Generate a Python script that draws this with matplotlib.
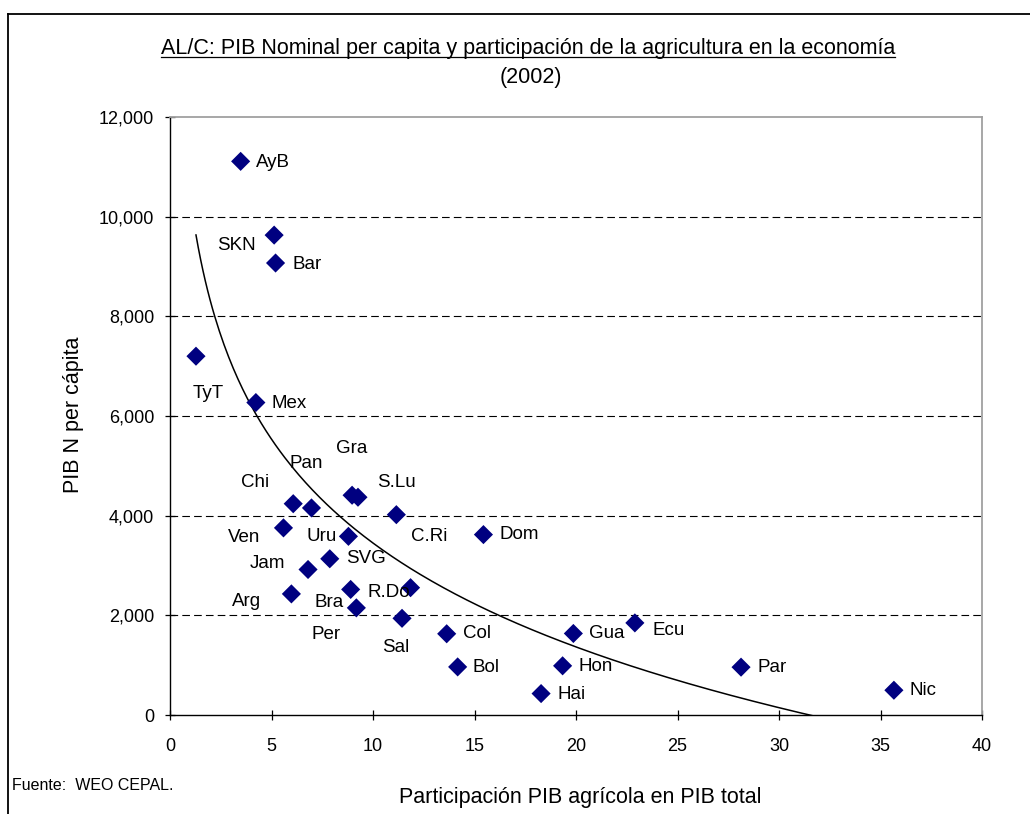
import numpy as np
import matplotlib.pyplot as plt
from matplotlib.lines import Line2D
from matplotlib.ticker import FuncFormatter

plt.rcParams['font.family'] = ['Liberation Sans', 'DejaVu Sans']
plt.rcParams['lines.scale_dashes'] = False

# Country codes, agricultural share of GDP (%) and nominal GDP per capita (2002)
paises = ['AyB', 'SKN', 'Bar', 'TyT', 'Mex', 'Gra', 'Pan', 'Chi', 'S.Lu', 'C.Ri',
          'Ven', 'Uru', 'SVG', 'Jam', 'Arg', 'Bra', 'R.Do', 'Per', 'Sal', 'Col',
          'Bol', 'Dom', 'Gua', 'Ecu', 'Hon', 'Hai', 'Par', 'Nic']
agricultura = [3.48, 5.13, 5.20, 1.28, 4.23, 8.97, 6.97, 6.07, 9.26, 11.15,
               5.59, 8.79, 7.87, 6.80, 5.98, 8.90, 11.85, 9.18, 11.43, 13.63,
               14.17, 15.44, 19.87, 22.90, 19.34, 18.28, 28.13, 35.66]
pib_pc = [11110, 9630, 9070, 7200, 6270, 4410, 4155, 4240, 4370, 4020,
          3755, 3585, 3135, 2920, 2430, 2520, 2555, 2150, 1940, 1630,
          965, 3620, 1636, 1848, 987, 430, 960, 497]

# label placement: (dx, dy) in pixels from the marker, horizontal alignment
etiquetas = {
    'AyB': (15, -1, 'left'), 'SKN': (-18, -10, 'right'), 'Bar': (17, -1, 'left'),
    'TyT': (12, -37, 'center'), 'Mex': (16, -1, 'left'), 'Gra': (0, 47, 'center'),
    'Pan': (-5, 44, 'center'), 'Chi': (-38, 21, 'center'), 'S.Lu': (38, 15, 'center'),
    'C.Ri': (33, -22, 'center'), 'Ven': (-39, -10, 'center'), 'Uru': (-27, 0, 'center'),
    'SVG': (16, 0, 'left'), 'Jam': (-41, 6, 'center'), 'Arg': (-45, -8, 'center'),
    'Bra': (-22, -13, 'center'), 'R.Do': (-22, -5, 'center'), 'Per': (-30, -27, 'center'),
    'Sal': (-6, -29, 'center'), 'Col': (16, 0, 'left'), 'Bol': (15, -1, 'left'),
    'Dom': (16, 0, 'left'), 'Gua': (16, 0, 'left'), 'Ecu': (18, -8, 'left'),
    'Hon': (16, -1, 'left'), 'Hai': (16, -1, 'left'), 'Par': (16, 0, 'left'),
    'Nic': (16, 0, 'left'),
}

x = np.array(agricultura)
y = np.array(pib_pc)

W, H = 1030, 814
fig = plt.figure(figsize=(W / 100, H / 100), dpi=100)
ax = fig.add_axes([170 / W, 1 - 715 / H, 812 / W, 598 / H])

# logarithmic trend line
a, b = np.polyfit(np.log(x), y, 1)
xt = np.linspace(x.min(), x.max(), 300)
ax.plot(xt, a * np.log(xt) + b, color='black', lw=1.1, zorder=2)

ax.scatter(x, y, marker='D', s=95, color='#000080', edgecolors='none', zorder=3)

for nombre, xi, yi in zip(paises, x, y):
    dx, dy, ha = etiquetas[nombre]
    ax.annotate(nombre, (xi, yi), xytext=(dx, dy), textcoords='offset pixels',
                ha=ha, va='center', fontsize=13.5, color='black')

ax.set_xlim(0, 40)
ax.set_ylim(0, 12000)
ax.set_xticks(np.arange(0, 41, 5))
ax.set_yticks(np.arange(0, 12001, 2000))
ax.yaxis.set_major_formatter(FuncFormatter(lambda v, p: f'{int(v):,}'))
ax.tick_params(direction='inout', length=7, width=0.9, labelsize=13)
ax.tick_params(axis='y', pad=8)
ax.tick_params(axis='x', pad=13)

for v in range(2000, 12000, 2000):
    ax.axhline(v, color='black', lw=0.8, dashes=(5.5, 3), zorder=1)

for s in ['top', 'right']:
    ax.spines[s].set_color('#a0a0a0')
    ax.spines[s].set_linewidth(1.3)
for s in ['left', 'bottom']:
    ax.spines[s].set_color('black')
    ax.spines[s].set_linewidth(1.0)

fig.text(73 / W, 1 - 415 / H, 'PIB N per cápita', rotation=90, ha='center',
         va='center', fontsize=15.5)
fig.text(580 / W, 1 - 797 / H, 'Participación PIB agrícola en PIB total',
         ha='center', va='center', fontsize=15.5)
fig.text(12 / W, 1 - 785 / H, 'Fuente:  WEO CEPAL.', ha='left', va='center',
         fontsize=11.5)

titulo = fig.text(528 / W, 1 - 54 / H,
                  'AL/C: PIB Nominal per capita y participación de la agricultura en la economía',
                  ha='center', va='baseline', fontsize=15.5)
fig.text(531 / W, 1 - 77 / H, '(2002)', ha='center', va='center', fontsize=15.5)

# underline the first title line
fig.canvas.draw()
bb = titulo.get_window_extent()
fig.add_artist(Line2D([bb.x0 / W, bb.x1 / W], [1 - 57 / H, 1 - 57 / H],
                      color='black', lw=0.9, transform=fig.transFigure))

# outer frame of the chart area
fig.add_artist(Line2D([8 / W, 1.0], [1 - 14 / H, 1 - 14 / H], color='black',
                      lw=1.3, transform=fig.transFigure))
fig.add_artist(Line2D([8 / W, 8 / W], [0.0, 1 - 14 / H], color='black',
                      lw=1.3, transform=fig.transFigure))

fig.savefig('out.png', dpi=100)
